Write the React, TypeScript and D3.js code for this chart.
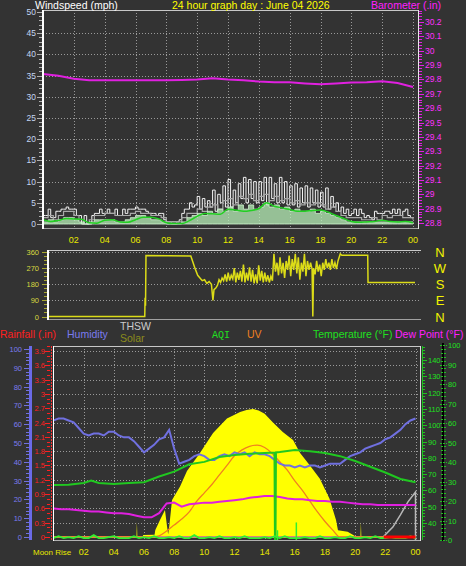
import React from 'react';
import * as d3 from 'd3';

const FONT = '"Liberation Sans", Arial, Helvetica, sans-serif';
const BG = '#333333';
const GRID = '#9a9a9a';

// ---------- shared hour axis ----------
const hourTicks = [2, 4, 6, 8, 10, 12, 14, 16, 18, 20, 22, 24];
const hourTickLabels = ['02', '04', '06', '08', '10', '12', '14', '16', '18', '20', '22', '00'];

// ---------- top panel: windspeed (mph) + barometer (in) ----------
const windTicks = [0, 5, 10, 15, 20, 25, 30, 35, 40, 45, 50];
const baroTicks = [28.8, 28.9, 29, 29.1, 29.2, 29.3, 29.4, 29.5, 29.6, 29.7, 29.8, 29.9, 30, 30.1, 30.2];
const baroTickLabels = ['28.8', '28.9', '29', '29.1', '29.2', '29.3', '29.4', '29.5', '29.6', '29.7', '29.8', '29.9', '30', '30.1', '30.2'];

// gust, every 10 minutes
const gustMph = [
  2, 2, 3.5, 1.5, 1.5, 3,
  3, 3.5, 3.5, 4, 3.5, 3.5,
  3.5, 2, 2, 0, 2, 0,
  0, 2, 2.5, 2.5, 3.5, 2.5,
  2.5, 3.5, 2.5, 2.5, 3.5, 2,
  2, 3.5, 2.5, 3.5, 3.5, 3.5,
  4, 3.5, 3.5, 3.5, 3, 2.5,
  2.5, 2.5, 2, 2.5, 2.5, 1,
  0.5, 0.5, 0.5, 0.5, 0.5, 1,
  2.5, 3.5, 3.5, 5, 4, 4.5,
  6.5, 3.5, 6, 4, 5.5, 4,
  8, 3, 7, 5, 9, 4,
  10.5, 4, 8, 5, 9.5, 6,
  11, 5, 10.5, 6, 10, 5,
  10, 5.5, 11, 4.5, 11, 6,
  9.5, 5, 11, 5, 10, 4.5,
  9, 4.5, 9.5, 4, 8.5, 5,
  9, 4, 8.5, 5, 8, 4,
  7.5, 4, 8.5, 3.5, 6.5, 4,
  5, 3, 4, 2.5, 3.5, 2,
  2.5, 3.5, 2, 3.5, 2.5, 1.5,
  2, 1.5, 1, 3, 2.5, 2.5,
  2.5, 3, 3, 2.5, 3.5, 2.5,
  3.5, 2, 3, 3.5, 2, 1.5,
  1.5,
];
// high speed, every 20 minutes
const hiSpeedMph = [
  1.5, 2, 1, 2, 3, 3, 2, 1, 0, 1, 2, 2,
  2.5, 2.5, 2, 2, 2, 2.5, 3, 2.5, 2.5, 2, 2, 1.5,
  0.5, 0, 0.5, 1.5, 2.5, 2.5, 3.5, 3, 4, 4.5, 3.5, 5.5,
  6, 4.5, 6.5, 6, 7, 5.5, 6.5, 7, 5.5, 6.5, 5.5, 6,
  5, 5.5, 4.5, 5, 4.5, 5, 4.5, 3.5, 4, 3, 2, 1.5,
  1.5, 1.5, 1, 1, 1.5, 1, 2, 1.5, 2, 2, 1.5, 1.5,
  1,
];
// speed, every 20 minutes
const speedMph = [
  0.5, 1, 0.5, 1, 1.5, 1.5, 1, 0.5, 0, 0.5, 1, 1,
  1, 1, 0.5, 0.5, 1, 1.5, 2, 2, 1.5, 1, 1, 0.5,
  0, 0, 0, 0.5, 1.5, 2, 2.5, 2, 3, 2.5, 3.5, 3,
  4, 3, 4.5, 3.5, 4.5, 3.5, 4, 5, 4, 4.5, 3.5, 4,
  3, 3.5, 3, 3, 3.5, 2.5, 3, 2.5, 2, 1.5, 1, 0.5,
  0.5, 0.5, 0.5, 0.5, 0.5, 0.5, 0.5, 0.5, 0.5, 0.5, 0.5, 0.5,
  0.5,
];
// average, every 30 minutes
const avgMph = [
  1.0, 0.6, 0.8, 1.3, 1.2, 1.1, 0.3, 0.2, 0.9, 1.0, 0.5, 0.4,
  1.0, 1.6, 1.6, 1.2, 0.3, 0.1, 0.1, 0.8, 1.8, 2.5, 2.4, 2.3,
  3.5, 3.3, 3.0, 3.2, 3.6, 5.0, 4.2, 3.8, 3.4, 3.0, 3.0, 3.2,
  3.3, 2.8, 2.0, 1.3, 0.6, 0.4, 0.5, 0.6, 0.9, 0.6, 0.5, 0.6,
  0.3,
];
// barometer, hourly
const baroIn = [
  29.838, 29.825, 29.805, 29.795, 29.794, 29.794, 29.794, 29.794, 29.794, 29.796,
  29.8, 29.808, 29.8, 29.795, 29.785, 29.78, 29.78, 29.772, 29.766, 29.772,
  29.778, 29.78, 29.788, 29.775, 29.747,
];

// ---------- wind direction panel ----------
const dirTicks = [0, 90, 180, 270, 360];
const compassLabels = ['N', 'E', 'S', 'W', 'N'];
const dirHours = [
  0, 6.28, 6.3, 6.33, 6.36, 9.3, 9.45, 9.57, 9.75, 9.9,
  10.05, 10.2, 10.35, 10.5, 10.65, 10.75, 10.82, 10.95, 11.05, 11.15,
  11.25, 11.35, 11.45, 11.55, 11.65, 11.75, 11.85, 11.95, 12.05, 12.15,
  12.25, 12.35, 12.45, 12.55, 12.65, 12.75, 12.85, 12.95, 13.05, 13.15,
  13.25, 13.35, 13.45, 13.55, 13.65, 13.75, 13.85, 13.95, 14.05, 14.15,
  14.25, 14.35, 14.45, 14.55, 14.65, 14.75, 14.85, 14.95, 15.05, 15.15,
  15.25, 15.35, 15.45, 15.55, 15.65, 15.75, 15.85, 15.95, 16.05, 16.15,
  16.25, 16.35, 16.45, 16.55, 16.65, 16.75, 16.85, 16.95, 17.05, 17.15,
  17.25, 17.3, 17.35, 17.45, 17.55, 17.65, 17.75, 17.85, 17.95, 18.05,
  18.15, 18.25, 18.35, 18.45, 18.55, 18.65, 18.75, 18.85, 18.95, 19.1,
  19.2, 20.9, 20.92, 24,
];
const dirDegrees = [
  0, 0, 105, 60, 340, 338, 300, 270, 230, 215,
  200, 205, 185, 195, 180, 90, 150, 160, 175, 205,
  190, 215, 200, 235, 195, 245, 200, 230, 210, 270,
  190, 245, 205, 255, 195, 290, 190, 245, 200, 275,
  195, 260, 185, 235, 185, 285, 200, 255, 190, 245,
  195, 230, 190, 225, 200, 350, 250, 300, 230, 330,
  240, 300, 215, 310, 260, 340, 225, 320, 260, 350,
  240, 330, 205, 300, 250, 350, 225, 310, 260, 300,
  265, 0, 270, 235, 310, 250, 290, 225, 300, 260,
  320, 270, 300, 260, 320, 270, 300, 265, 310, 350,
  342, 342, 190, 190,
];

// ---------- bottom panel ----------
const humTicks = [0, 10, 20, 30, 40, 50, 60, 70, 80, 90, 100];
const rainTicks = [0, 0.3, 0.6, 0.9, 1.2, 1.5, 1.8, 2.1, 2.4, 2.7, 3, 3.3, 3.6, 3.9];
const rainTickLabels = ['0', '0.3', '0.6', '0.9', '1.2', '1.5', '1.8', '2.1', '2.4', '2.7', '3', '3.3', '3.6', '3.9'];
const tempTicks = [40, 50, 60, 70, 80, 90, 100, 110, 120, 130, 140];
const aqiTicks = [0, 10, 20, 30, 40, 50, 60, 70, 80, 90, 100];

// humidity %, every 20 minutes
const humidityPct = [
  62, 63, 63, 62, 61, 58, 55, 54, 55, 55, 54, 56,
  56, 54, 53, 53, 51, 48, 45, 47, 49, 52, 53, 57,
  47, 39, 40, 41, 43, 44, 43, 41, 41, 43, 44, 43,
  45, 44, 45, 43, 45, 44, 44, 43, 41, 39, 38, 38,
  37, 38, 37, 38, 38, 37, 38, 39, 39, 39, 41, 43,
  44, 45, 47, 48, 49, 50, 52, 53, 55, 57, 60, 62,
  63,
];
// temperature °F (with one sensor dropout)
const tempHours = [0, 1, 2, 2.5, 3, 4, 5, 6, 7, 8, 9, 10, 11, 12, 13, 14, 14.65, 14.7, 14.75, 15, 16, 17, 18, 19, 20, 21, 22, 23, 24];
const tempF = [63.3, 63.5, 64.5, 66, 64.5, 64, 64.5, 65, 68.5, 71.5, 76, 77.5, 80.5, 81.7, 82.5, 83, 83.2, 0, 83.3, 83.5, 84.8, 84, 83, 81, 78, 74.5, 71, 67, 65];
// dew point °F, every 30 minutes
const dewF = [
  49, 48.5, 48.5, 48, 47.5, 47, 47, 46.5, 46, 46, 45.5, 44.5,
  43.5, 43.5, 46, 52, 52.5, 50, 51.5, 52, 52.5, 52.5, 53, 53.5,
  54, 54.5, 55.5, 56, 56.5, 56.5, 56, 55, 54.5, 54.5, 54, 53.5,
  53.5, 53, 53, 52.5, 52, 51.5, 51.5, 51, 51, 51, 51, 51,
  51,
];
// UV index, every 30 minutes
const uvIndex = [
  0, 0, 0, 0, 0, 0, 0, 0, 0, 0, 0, 0,
  0, 0, 0.1, 0.5, 1.0, 1.5, 2.1, 3.0, 3.7, 4.4, 5.2, 6.0,
  6.8, 7.3, 7.6, 7.7, 7.5, 7.0, 6.3, 5.6, 4.7, 3.9, 3.0, 2.1,
  1.3, 0.6, 0, 0, 0, 0, 0, 0, 0, 0, 0, 0,
  0,
];
// solar radiation W/m²
const solarHours = [
  0, 5.5, 5.53, 5.56, 5.9, 5.95, 6.7, 6.75, 7.06, 7.39,
  7.52, 7.6, 7.68, 7.86, 8.39, 8.85, 9.71, 10.58, 11.5, 12.37,
  12.8, 13.23, 13.6, 14.0, 14.55, 15.2, 15.88, 16.35, 17.0, 17.66,
  18.3, 18.73, 18.86, 19.5, 20.1, 20.35, 20.38, 20.41, 24,
];
const solarWm2 = [
  0, 0, 79, 0, 0, 10, 12, 37, 89, 141,
  60, 15, 60, 194, 265, 345, 440, 545, 620, 654,
  665, 670, 662, 645, 600, 550, 508, 440, 375, 305,
  200, 89, 35, 28, 0, 0, 79, 0, 0,
];
// THSW °F
const thswHours = [21.8, 22.5, 23, 23.5, 24, 24.001];
const thswF = [31, 37.5, 45, 53, 59, 0];
// AQI, every 20 minutes
const aqiValues = [
  1, 2, 1, 1.5, 1, 2, 1, 1, 2.5, 1, 1, 1.5,
  2, 1, 1, 1, 2, 1, 1.5, 1, 2, 1, 1, 1.5,
  1, 2, 1, 1, 2.5, 1, 1, 1.5, 1, 2, 1, 1,
  1.5, 1, 2, 1, 1, 1, 1.5, 1, 2, 1, 2, 1,
  1, 1, 1.5, 1, 1, 2, 1, 1, 1.5, 1, 1, 2,
  1, 1, 1.5, 1, 2, 1, 1, 1.5, 1, 1, 1, 2,
  1,
];
const aqiSpikeHours = [14.85, 16.1];
const aqiSpikeValues = [5, 9];
// rainfall (in)
const rainHours = [0, 21.9];
const rainIn = [0, 0];
const rainRecentHours = [21.9, 24];
const rainRecentIn = [0, 0];

const uniformHours = (n: number) => d3.range(n).map((i) => (i * 24) / (n - 1));

function pathOf(hours: number[], values: number[], x: (v: number) => number, y: (v: number) => number, curve: d3.CurveFactory = d3.curveLinear) {
  return (
    d3
      .line<number>()
      .x((_, i) => x(hours[i]))
      .y((d) => y(d))
      .curve(curve)(values) ?? ''
  );
}

export default function App() {
  // top panel scales
  const xT = d3.scaleLinear().domain([0, 24]).range([43, 413]);
  const yW = d3.scaleLinear().domain([0, 50]).range([224, 12]);
  const yBaro = d3.scaleLinear().domain([28.8, 30.2]).range([223, 22]);
  const T = { l: 43, r: 418, t: 10, b: 228 };

  // direction panel scales
  const xD = d3.scaleLinear().domain([0, 24]).range([49, 415]);
  const yD = d3.scaleLinear().domain([0, 360]).range([316.5, 252]);
  const D = { l: 49, r: 421, t: 250, b: 320 };

  // bottom panel scales
  const xB = d3.scaleLinear().domain([0, 24]).range([53.5, 415.5]);
  const yHum = d3.scaleLinear().domain([0, 100]).range([537, 349]);
  const yRain = d3.scaleLinear().domain([0, 3.9]).range([537, 351]);
  const yTemp = d3.scaleLinear().domain([40, 140]).range([523, 360]);
  const yAqi = d3.scaleLinear().domain([0, 100]).range([540, 345]);
  const ySolar = d3.scaleLinear().domain([0, 1000]).range([537, 346]);
  const yUv = d3.scaleLinear().domain([0, 16]).range([537, 346]);
  const B = { l: 54, r: 421, t: 346, b: 540 };

  const gustPath = pathOf(uniformHours(gustMph.length), gustMph, xT, yW, d3.curveStepAfter);
  const hiPath = pathOf(uniformHours(hiSpeedMph.length), hiSpeedMph, xT, yW, d3.curveStepAfter);
  const spH = uniformHours(speedMph.length);
  const speedArea =
    d3
      .area<number>()
      .x((_, i) => xT(spH[i]))
      .y0(yW(0))
      .y1((d) => yW(d))
      .curve(d3.curveStepAfter)(speedMph) ?? '';
  const avgPath = pathOf(uniformHours(avgMph.length), avgMph, xT, yW, d3.curveMonotoneX);
  const baroPath = pathOf(uniformHours(baroIn.length), baroIn, xT, yBaro);

  const dirPath = pathOf(dirHours, dirDegrees, xD, yD);

  const soH = solarHours;
  const solarArea =
    d3
      .area<number>()
      .x((_, i) => xB(soH[i]))
      .y0(ySolar(0))
      .y1((d) => ySolar(d))(solarWm2) ?? '';
  const humPath = pathOf(uniformHours(humidityPct.length), humidityPct, xB, yHum);
  const tempPath = pathOf(tempHours, tempF, xB, yTemp);
  const dewPath = pathOf(uniformHours(dewF.length), dewF, xB, yTemp);
  const uvPath = pathOf(uniformHours(uvIndex.length), uvIndex, xB, yUv, d3.curveMonotoneX);
  const thswPath = pathOf(thswHours, thswF, xB, yTemp);
  const aqiPath = pathOf(uniformHours(aqiValues.length), aqiValues, xB, yAqi);
  const rainPath = pathOf(rainHours, rainIn, xB, yRain);
  const rainRecentPath = pathOf(rainRecentHours, rainRecentIn, xB, yRain);

  const txt = (fill: string, size: number, extra: any = {}) => ({ fill, fontSize: size, fontFamily: FONT, ...extra });

  return (
    <svg width={466} height={566} style={{ position: 'fixed', left: 0, top: 0, background: BG }}>
      <defs>
        <clipPath id="clipTop">
          <rect x={T.l} y={T.t} width={T.r - T.l} height={T.b - T.t} />
        </clipPath>
        <clipPath id="clipDir">
          <rect x={D.l} y={D.t} width={D.r - D.l} height={D.b - D.t} />
        </clipPath>
        <clipPath id="clipBot">
          <rect x={B.l} y={B.t} width={B.r - B.l} height={B.b - B.t} />
        </clipPath>
        <clipPath id="clipAqiAxis">
          <rect x={430} y={343} width={36} height={210} />
        </clipPath>
      </defs>
      <rect x={0} y={0} width={466} height={566} fill={BG} />

      {/* ============ TOP PANEL ============ */}
      <g shapeRendering="crispEdges">
        {hourTicks.map((h) => (
          <line key={'tvg' + h} x1={Math.round(xT(h)) + 0.5} x2={Math.round(xT(h)) + 0.5} y1={T.t} y2={T.b} stroke={GRID} strokeDasharray="1 2" />
        ))}
        {windTicks.slice(1, -1).map((v) => (
          <line key={'thg' + v} x1={T.l} x2={T.r} y1={Math.round(yW(v)) + 0.5} y2={Math.round(yW(v)) + 0.5} stroke={GRID} strokeDasharray="1 2" />
        ))}
      </g>
      <g clipPath="url(#clipTop)">
        <path d={gustPath} fill="none" stroke="#f2f2f2" strokeWidth={1} />
        <path d={hiPath} fill="none" stroke="#a8a8a8" strokeWidth={1.2} />
        <path d={speedArea} fill="#b8f0b8" fillOpacity={0.75} stroke="#d0f8d0" strokeWidth={0.8} />
        <path d={avgPath} fill="none" stroke="#22d022" strokeWidth={1.5} />
        <path d={baroPath} fill="none" stroke="#e020e0" strokeWidth={2} />
      </g>
      <g shapeRendering="crispEdges">
        <line x1={T.l} x2={T.r} y1={T.t + 0.5} y2={T.t + 0.5} stroke="#c8c8c8" />
        <line x1={T.l} x2={T.r} y1={T.b + 0.5} y2={T.b + 0.5} stroke="#a0a0a0" />
        <line x1={T.l} x2={T.l} y1={T.t} y2={T.b + 1} stroke="#ffffff" strokeWidth={2} />
        <line x1={T.r + 0.5} x2={T.r + 0.5} y1={T.t} y2={T.b + 1} stroke="#e8e8e8" />
        {d3.range(0, 51).map((v) => (
          <line key={'wmt' + v} x1={v % 5 === 0 ? 37 : 39} x2={42} y1={Math.round(yW(v)) + 0.5} y2={Math.round(yW(v)) + 0.5} stroke="#b0b0b0" />
        ))}
        {d3.range(0, 75).map((i) => {
          const v = 28.8 + i * 0.02;
          return <line key={'bmt' + i} x1={419} x2={i % 5 === 0 ? 424 : 422} y1={Math.round(yBaro(v)) + 0.5} y2={Math.round(yBaro(v)) + 0.5} stroke="#e020e0" />;
        })}
      </g>
      {windTicks.map((v) => (
        <text key={'wl' + v} x={36} y={yW(v) + 3} textAnchor="end" {...txt('#c4d6f2', 8.5)}>
          {v}
        </text>
      ))}
      {baroTicks.map((v, i) => (
        <text key={'bl' + v} x={425} y={yBaro(v) + 3} {...txt('#ff30ff', 8.5)}>
          {baroTickLabels[i]}
        </text>
      ))}
      {hourTicks.map((h, i) => (
        <text key={'txl' + h} x={xT(h)} y={243} textAnchor="middle" {...txt('#e8e800', 9)}>
          {hourTickLabels[i]}
        </text>
      ))}
      <text x={35} y={9} {...txt('#ffffff', 10.5)}>Windspeed (mph)</text>
      <text x={172} y={9} {...txt('#ffff00', 10.5)}>24 hour graph day : June 04 2026</text>
      <text x={371} y={9} {...txt('#ff20ff', 10.5)}>Barometer (.in)</text>

      {/* ============ WIND DIRECTION PANEL ============ */}
      <g shapeRendering="crispEdges">
        {dirTicks.slice(1).map((v) => (
          <line key={'dg' + v} x1={D.l} x2={D.r} y1={Math.round(yD(v)) + 0.5} y2={Math.round(yD(v)) + 0.5} stroke={GRID} strokeDasharray="1 2" />
        ))}
        <line x1={D.l} x2={D.r} y1={D.t + 0.5} y2={D.t + 0.5} stroke="#c8c8c8" />
        <line x1={D.l} x2={D.r} y1={D.b - 0.5} y2={D.b - 0.5} stroke="#a0a0a0" />
      </g>
      <g clipPath="url(#clipDir)">
        <path d={dirPath} fill="none" stroke="#dcdc18" strokeWidth={1.5} />
      </g>
      <g shapeRendering="crispEdges">
        <line x1={48} x2={48} y1={D.t} y2={D.b} stroke="#ffffff" strokeWidth={2} />
        {d3.range(0, 361, 22.5).map((v) => (
          <line key={'dmt' + v} x1={v % 90 === 0 ? 42 : 44} x2={47} y1={Math.round(yD(v)) + 0.5} y2={Math.round(yD(v)) + 0.5} stroke="#a8a830" />
        ))}
      </g>
      {dirTicks.map((v) => (
        <text key={'dl' + v} x={39} y={yD(v) + 3} textAnchor="end" {...txt('#d8d840', 7.5)}>
          {v}
        </text>
      ))}
      {dirTicks.map((v, i) => (
        <text key={'cl' + i} x={440} y={yD(v) + 5} textAnchor="middle" {...txt('#f4f400', 13)}>
          {compassLabels[i]}
        </text>
      ))}

      {/* ============ LEGEND ROW ============ */}
      <text x={0} y={337.5} {...txt('#ff2020', 10.5)}>Rainfall (.in)</text>
      <text x={67} y={337.5} {...txt('#7b7bef', 10.5)}>Humidity</text>
      <text x={120} y={330} {...txt('#cccccc', 10.5)}>THSW</text>
      <text x={120} y={342} {...txt('#8c8c1c', 10.5)}>Solar</text>
      <text x={212} y={338} {...txt('#20e020', 10, { fontFamily: '"Liberation Mono", "DejaVu Sans Mono", monospace' })}>AQI</text>
      <text x={247} y={337.5} {...txt('#f08020', 10.5)}>UV</text>
      <text x={313} y={337.5} {...txt('#20e020', 10.5)}>Temperature (°F)</text>
      <text x={395} y={337.5} {...txt('#ff20ff', 10.5)}>Dew Point (°F)</text>

      {/* ============ BOTTOM PANEL ============ */}
      <g shapeRendering="crispEdges">
        {hourTicks.map((h) => (
          <line key={'bvg' + h} x1={Math.round(xB(h)) + 0.5} x2={Math.round(xB(h)) + 0.5} y1={B.t} y2={B.b} stroke={GRID} strokeDasharray="1 2" />
        ))}
        {rainTicks.slice(1).map((v) => (
          <line key={'bhg' + v} x1={B.l} x2={B.r} y1={Math.round(yRain(v)) + 0.5} y2={Math.round(yRain(v)) + 0.5} stroke={GRID} strokeDasharray="1 2" />
        ))}
      </g>
      <g clipPath="url(#clipBot)">
        <path d={solarArea} fill="#ffff00" />
        <path d={rainPath} fill="none" stroke="#e08080" strokeWidth={2} />
        <path d={thswPath} fill="none" stroke="#b8b8b8" strokeWidth={1.5} />
        <path d={uvPath} fill="none" stroke="#f08020" strokeWidth={1.3} />
        <path d={humPath} fill="none" stroke="#7070e0" strokeWidth={2} />
        <path d={dewPath} fill="none" stroke="#e020e0" strokeWidth={2} />
        <path d={tempPath} fill="none" stroke="#20c820" strokeWidth={2} />
        <path d={aqiPath} fill="none" stroke="#30f030" strokeWidth={1.8} />
        {aqiSpikeHours.map((h, i) => (
          <line key={'aqs' + i} x1={xB(h)} x2={xB(h)} y1={yAqi(0)} y2={yAqi(aqiSpikeValues[i])} stroke="#30f030" strokeWidth={1.5} />
        ))}
        <path d={rainRecentPath} fill="none" stroke="#ff0000" strokeWidth={3} />
      </g>
      <g shapeRendering="crispEdges">
        <line x1={B.l} x2={B.r} y1={B.t + 0.5} y2={B.t + 0.5} stroke="#c8c8c8" />
        <line x1={B.l} x2={B.r} y1={B.b + 0.5} y2={B.b + 0.5} stroke="#b0b0b0" />
        <line x1={B.r - 0.5} x2={B.r - 0.5} y1={B.t} y2={B.b + 1} stroke="#e0e0e0" />
        {/* humidity axis */}
        <line x1={30.5} x2={30.5} y1={B.t} y2={B.b} stroke="#6a6ae8" strokeWidth={3} />
        {d3.range(0, 101, 2).map((v) => (
          <line key={'hmt' + v} x1={v % 10 === 0 ? 24 : 26} x2={29} y1={Math.round(yHum(v)) + 0.5} y2={Math.round(yHum(v)) + 0.5} stroke="#7070e0" />
        ))}
        {/* rainfall axis */}
        <line x1={51.5} x2={51.5} y1={B.t} y2={B.b} stroke="#ff3030" strokeDasharray="2 1" />
        <line x1={53.5} x2={53.5} y1={B.t} y2={B.b + 1} stroke="#ffffff" strokeWidth={1.5} />
        {d3.range(0, 41).map((i) => (
          <line key={'rmt' + i} x1={i % 3 === 0 ? 45 : 47} x2={50} y1={Math.round(yRain(i * 0.1)) + 0.5} y2={Math.round(yRain(i * 0.1)) + 0.5} stroke="#ff2020" />
        ))}
        {/* temperature axis */}
        <line x1={422.5} x2={422.5} y1={B.t} y2={B.b} stroke="#20c020" strokeWidth={1.5} />
        {d3.range(32, 150, 2).map((v) => (
          <line key={'tmt' + v} x1={422} x2={v % 10 === 0 ? 427 : 425} y1={Math.round(yTemp(v)) + 0.5} y2={Math.round(yTemp(v)) + 0.5} stroke="#20c020" />
        ))}
        {/* aqi axis */}
        <line x1={443} x2={443} y1={343} y2={541} stroke="#000000" strokeWidth={2.5} />
        {d3.range(0, 101, 2).map((v) => (
          <line key={'amt' + v} x1={v % 10 === 0 ? 440 : 441} x2={v % 10 === 0 ? 447 : 446} y1={Math.round(yAqi(v)) + 0.5} y2={Math.round(yAqi(v)) + 0.5} stroke="#20c020" strokeDasharray="2 1" />
        ))}
      </g>
      {humTicks.map((v) => (
        <text key={'hl' + v} x={22} y={yHum(v) + 3} textAnchor="end" {...txt('#7b7bef', 7.5)}>
          {v}
        </text>
      ))}
      {rainTicks.map((v, i) => (
        <text key={'rl' + v} x={45} y={yRain(v) + 3} textAnchor="end" {...txt('#ff2020', 7.5)}>
          {rainTickLabels[i]}
        </text>
      ))}
      {tempTicks.map((v) => (
        <text key={'tl' + v} x={428} y={yTemp(v) + 3} {...txt('#20e020', 7.5)}>
          {v}
        </text>
      ))}
      <g clipPath="url(#clipAqiAxis)">
        {aqiTicks.map((v) => (
          <text key={'al' + v} x={448} y={yAqi(v) + 3} {...txt('#20e020', 7.5)}>
            {v}
          </text>
        ))}
      </g>
      {hourTicks.map((h, i) => (
        <text key={'bxl' + h} x={xB(h)} y={555} textAnchor="middle" {...txt('#e8e800', 9)}>
          {hourTickLabels[i]}
        </text>
      ))}
      <text x={33} y={555} {...txt('#e8e800', 8)}>Moon Rise</text>
    </svg>
  );
}
